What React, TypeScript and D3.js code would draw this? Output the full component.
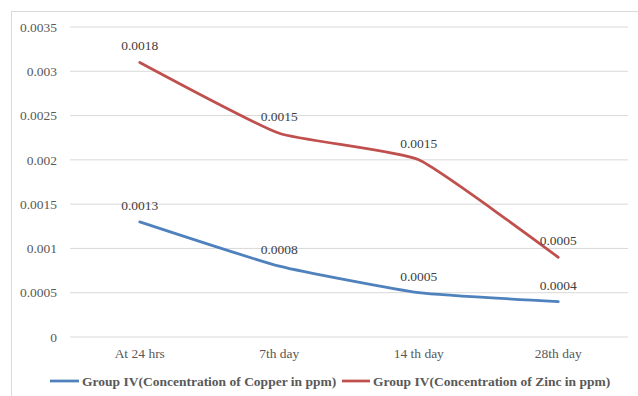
import React from "react";
import * as d3 from "d3";

// Sampling times
const categories = ["At 24 hrs", "7th day", "14 th day", "28th day"];
// Group IV concentrations (ppm); the chart stacks zinc on top of copper
const copper = [0.0013, 0.0008, 0.0005, 0.0004];
const zinc = [0.0018, 0.0015, 0.0015, 0.0005];
const seriesNames = [
  "Group IV(Concentration of Copper in ppm)",
  "Group IV(Concentration of Zinc in ppm)",
];
const yTicks = [0, 0.0005, 0.001, 0.0015, 0.002, 0.0025, 0.003, 0.0035];
const yTickLabels = ["0", "0.0005", "0.001", "0.0015", "0.002", "0.0025", "0.003", "0.0035"];

const colors = ["#4F81BD", "#C0504D"];
const W = 638;
const H = 396;
const FONT = "'Liberation Serif', 'DejaVu Serif', serif";

export default function App() {
  const left = 70;
  const right = 628;
  const top = 27;
  const bottom = 337;

  const x = d3.scaleBand<string>().domain(categories).range([left, right]);
  const y = d3.scaleLinear().domain([0, 0.0035]).range([bottom, top]);

  const rows = categories.map((c, i) => ({ c, copper: copper[i], zinc: zinc[i] }));
  const stacked = d3.stack<any>().keys(["copper", "zinc"])(rows);
  const raw = [copper, zinc];

  const line = d3
    .line<[number, number]>()
    .x((d) => d[0])
    .y((d) => d[1])
    .curve(d3.curveCardinal.tension(0.55));

  const cx = (c: string) => (x(c) as number) + x.bandwidth() / 2;

  const legendItems = [
    { x0: 50, x1: 79, tx: 82 },
    { x0: 342, x1: 370, tx: 373 },
  ];

  return (
    <svg
      width={W}
      height={H}
      style={{ position: "absolute", left: 0, top: 0, background: "#fff" }}
    >
      <rect x={11.5} y={11.5} width={W} height={H} fill="#fff" stroke="#d9d9d9" />
      {yTicks.map((t, i) => (
        <g key={t}>
          <line x1={left} x2={right} y1={y(t)} y2={y(t)} stroke="#d9d9d9" strokeWidth={1} />
          <text
            x={57}
            y={y(t)}
            dy="0.35em"
            textAnchor="end"
            fontFamily={FONT}
            fontSize={13.5}
            fill="#595959"
          >
            {yTickLabels[i]}
          </text>
        </g>
      ))}
      {categories.map((c) => (
        <text
          key={c}
          x={cx(c)}
          y={358}
          textAnchor="middle"
          fontFamily={FONT}
          fontSize={13.5}
          fill="#595959"
        >
          {c}
        </text>
      ))}
      {stacked.map((s, si) => {
        const pts: [number, number][] = s.map((d, i) => [cx(categories[i]), y(d[1])]);
        return (
          <g key={si}>
            <path
              d={line(pts) || ""}
              fill="none"
              stroke={colors[si]}
              strokeWidth={2.75}
              strokeLinecap="round"
            />
            {pts.map((p, i) => (
              <text
                key={i}
                x={p[0]}
                y={p[1] - 12}
                textAnchor="middle"
                fontFamily={FONT}
                fontSize={13.5}
                fill="#404040"
              >
                {raw[si][i].toFixed(4)}
              </text>
            ))}
          </g>
        );
      })}
      {legendItems.map((l, i) => (
        <g key={i}>
          <line x1={l.x0} x2={l.x1} y1={381} y2={381} stroke={colors[i]} strokeWidth={2.75} />
          <text
            x={l.tx}
            y={381}
            dy="0.35em"
            fontFamily={FONT}
            fontSize={13.5}
            fontWeight="bold"
            fill="#595959"
          >
            {seriesNames[i]}
          </text>
        </g>
      ))}
    </svg>
  );
}
